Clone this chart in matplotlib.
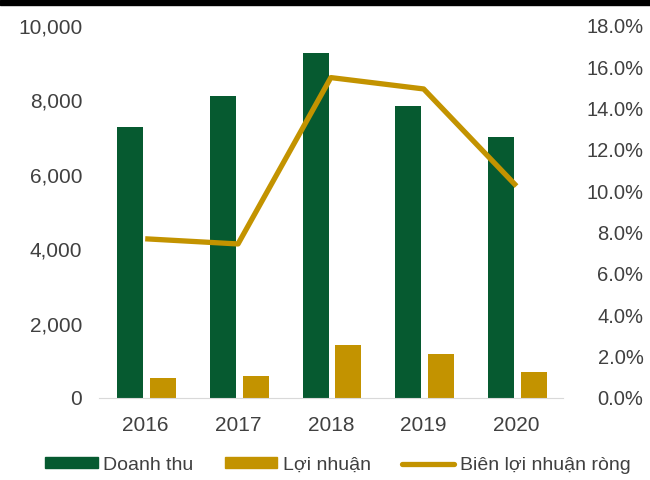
import numpy as np
import matplotlib.pyplot as plt
from matplotlib.patches import Rectangle
from matplotlib.lines import Line2D
from matplotlib.ticker import FuncFormatter

plt.rcParams['font.family'] = ['Liberation Sans', 'DejaVu Sans']

years = ['2016', '2017', '2018', '2019', '2020']
doanh_thu = [7290, 8120, 9270, 7850, 7020]
loi_nhuan = [540, 590, 1430, 1180, 700]
bien_ln = [7.7, 7.45, 15.5, 14.95, 10.25]

GREEN = '#065A30'
GOLD = '#C39300'
TXT = '#404040'

fig = plt.figure(figsize=(6.5, 4.8), dpi=100)
ax = fig.add_axes([0.152, 0.171, 0.714, 0.775])
ax2 = ax.twinx()

x = np.arange(len(years))
w = 0.28
ax.bar(x - 0.165, doanh_thu, w, color=GREEN, label='Doanh thu', zorder=2)
ax.bar(x + 0.19, loi_nhuan, w, color=GOLD, label='Lợi nhuận', zorder=2)
ax2.plot(x, bien_ln, color=GOLD, lw=3.8, solid_capstyle='butt', zorder=3)

ax.set_xlim(-0.5, len(years) - 0.5)
ax.set_ylim(0, 10000)
ax.set_yticks(np.arange(0, 10001, 2000))
ax.yaxis.set_major_formatter(FuncFormatter(lambda v, p: f'{v:,.0f}'))
ax2.set_ylim(0, 18)
ax2.set_yticks(np.arange(0, 18.1, 2))
ax2.yaxis.set_major_formatter(FuncFormatter(lambda v, p: f'{v:.1f}%'))
ax.set_xticks(x)
ax.set_xticklabels(years)

for a in (ax, ax2):
    for s in ('top', 'left', 'right', 'bottom'):
        a.spines[s].set_visible(False)
    a.tick_params(length=0, labelsize=15, colors=TXT)
ax.spines['bottom'].set_visible(True)
ax.spines['bottom'].set_color('#D9D9D9')
ax.tick_params(axis='x', pad=13)
ax.tick_params(axis='y', pad=12)
ax2.tick_params(axis='y', labelsize=14.5, pad=58)
for lbl in ax2.get_yticklabels():
    lbl.set_horizontalalignment('right')

handles = [Rectangle((0, 0), 1, 1, color=GREEN),
           Rectangle((0, 0), 1, 1, color=GOLD),
           Line2D([0], [0], color=GOLD, lw=3.8, solid_capstyle='round')]
fig.legend(handles, ['Doanh thu', 'Lợi nhuận', 'Biên lợi nhuận ròng'],
           loc='center', bbox_to_anchor=(0.52, 0.031), ncol=3, frameon=False,
           fontsize=14, handlelength=2.68, handleheight=0.46, handletextpad=0.3,
           columnspacing=1.6, labelcolor=TXT)

fig.patches.append(Rectangle((0, 1 - 5 / 480), 1, 5 / 480, transform=fig.transFigure,
                             color='black', zorder=5))

fig.savefig('out.png', dpi=100)
